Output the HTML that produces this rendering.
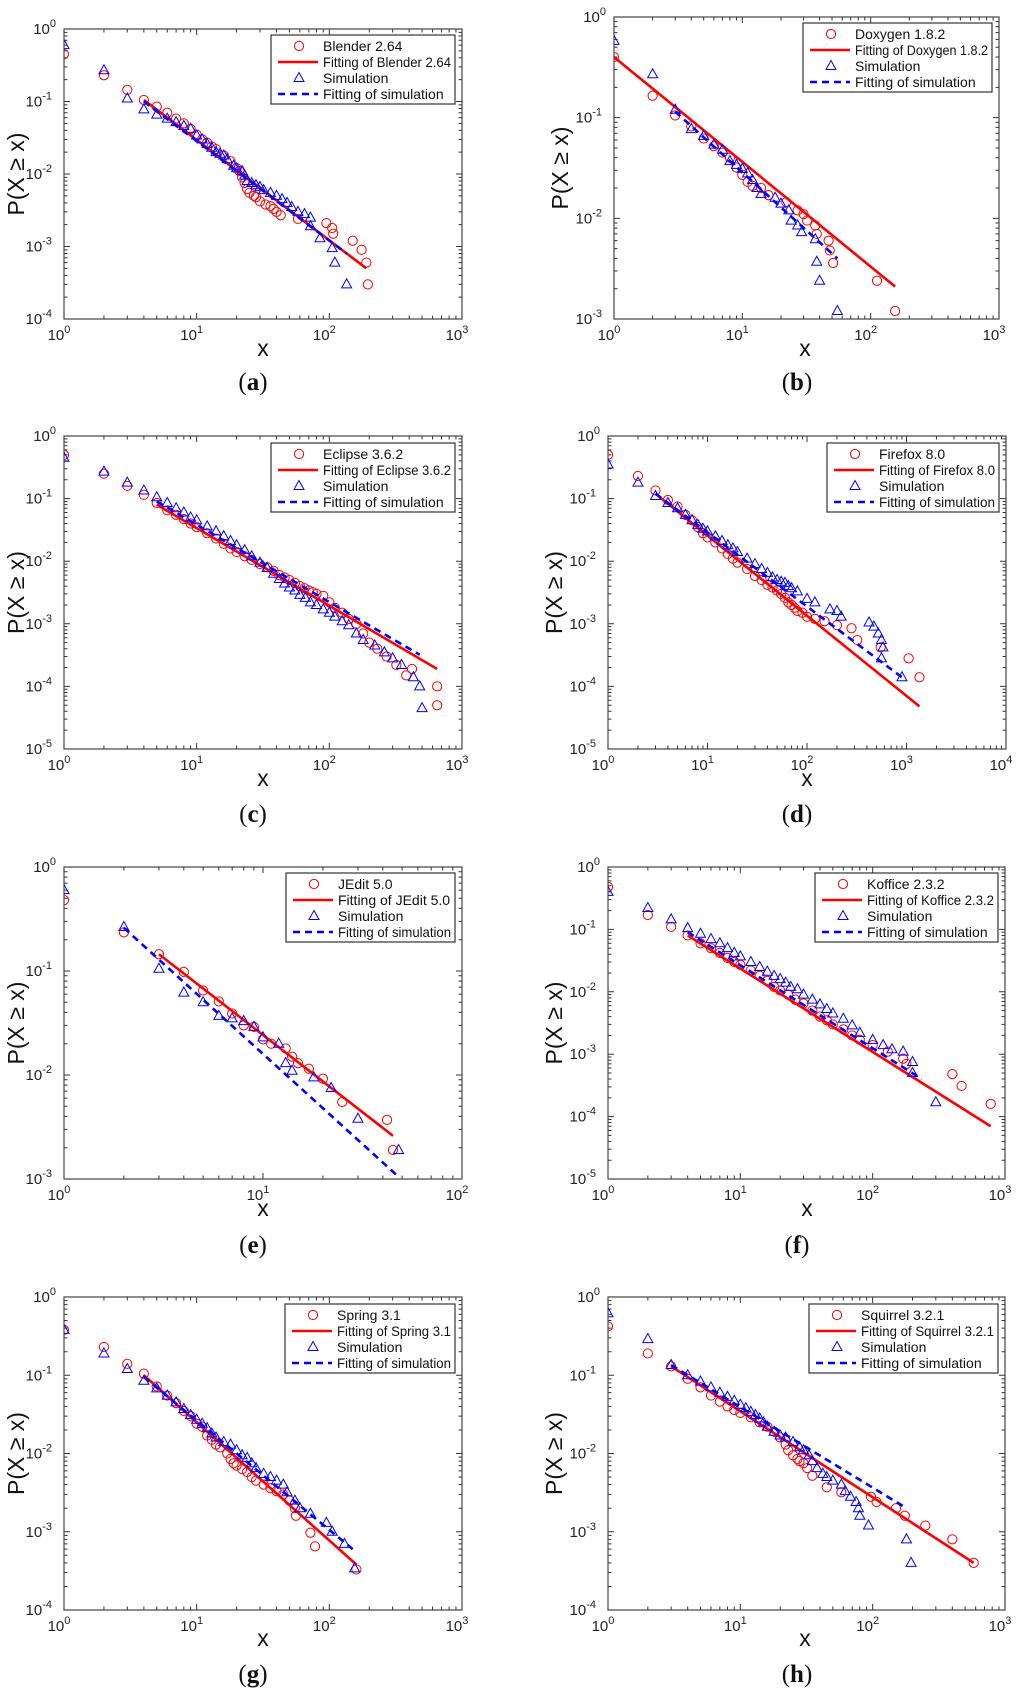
<!DOCTYPE html>
<html><head><meta charset="utf-8"><style>
html,body{margin:0;padding:0;background:#fff;}
svg{display:block;font-family:"Liberation Sans",sans-serif;}
</style></head><body>
<svg id="fig" width="1024" height="1703" viewBox="0 0 1024 1703" xmlns="http://www.w3.org/2000/svg"></svg>
<script>
// ---- data ----
const aCircX=[1,2,3,4,5,6,7,8,9,10,11,12,13,14,16,18,20,21,22,23,24,25,27,28,30,33,36,38,40,43,58,95,105,107,150,175,190,195];
const aCircY=[0.45,0.23,0.145,0.105,0.085,0.07,0.058,0.05,0.042,0.035,0.03,0.027,0.024,0.022,0.018,0.015,0.012,0.011,0.009,0.0075,0.0062,0.0055,0.005,0.0048,0.0042,0.0038,0.0036,0.0033,0.003,0.0027,0.0024,0.0021,0.0018,0.0015,0.0012,0.0009,0.0006,0.0003];
const aTriX=[1,2,3,4,5,6,7,8,9,10,11,12,13,14,15,16,17,19,20,22,23,24,26,28,30,32,36,40,44,48,52,58,65,72,72,85,105,110,135];
const aTriY=[0.6,0.27,0.11,0.078,0.066,0.058,0.052,0.046,0.042,0.034,0.03,0.026,0.023,0.02,0.019,0.018,0.016,0.013,0.012,0.011,0.0095,0.008,0.0075,0.007,0.0066,0.006,0.0055,0.005,0.0045,0.004,0.0035,0.003,0.0028,0.0025,0.0019,0.0013,0.00095,0.0006,0.0003];
const aFit=[4,0.105,190,0.0005];
const aSimFit=[4,0.1,135,0.0008];

const bCircX=[1,2,3,4,5,6,7,8,9,10,11,12,14,16,22,27,30,32,37,38,47,48,51,112,155];
const bCircY=[0.4,0.165,0.105,0.082,0.062,0.052,0.045,0.04,0.032,0.027,0.023,0.021,0.02,0.017,0.0145,0.012,0.011,0.0095,0.0085,0.007,0.006,0.0048,0.0036,0.0024,0.0012];
const bTriX=[1,2,3,4,5,6,7,8,9,10,11,12,13,14,18,20,23,24,27,29,37,38,40,55];
const bTriY=[0.58,0.27,0.12,0.077,0.066,0.054,0.048,0.037,0.034,0.031,0.028,0.024,0.02,0.0175,0.016,0.014,0.012,0.0095,0.0085,0.0073,0.0062,0.0037,0.0024,0.0012];
const bFit=[1,0.4,155,0.0021];
const bSimFit=[3,0.115,55,0.004];

const cCircX=[1,2,3,4,5,6,7,8,9,10,12,14,16,18,20,23,26,30,34,38,42,46,50,55,60,65,70,75,80,90,100,110,125,140,160,180,200,230,270,320,380,420,650,650];
const cCircY=[0.5,0.25,0.16,0.115,0.085,0.065,0.055,0.047,0.04,0.035,0.028,0.023,0.019,0.016,0.014,0.012,0.0105,0.009,0.008,0.007,0.006,0.0055,0.005,0.0045,0.004,0.0037,0.0034,0.0032,0.003,0.0028,0.0022,0.0018,0.0015,0.0012,0.001,0.0007,0.0005,0.0004,0.0003,0.00022,0.00015,0.00019,0.0001,0.00005];
const cTriX=[1,2,3,4,5,6,7,8,9,10,12,14,16,18,20,23,26,30,34,38,42,46,50,55,60,66,72,80,90,100,110,125,140,160,180,220,260,300,350,430,480,500];
const cTriY=[0.45,0.27,0.18,0.135,0.105,0.085,0.07,0.06,0.05,0.045,0.036,0.03,0.025,0.021,0.018,0.015,0.012,0.0095,0.0078,0.0063,0.0052,0.0044,0.0038,0.0034,0.0029,0.0026,0.0022,0.002,0.0017,0.0015,0.0013,0.0011,0.00095,0.0007,0.00055,0.00045,0.00035,0.00028,0.00022,0.00014,0.0001,0.000045];
const cFit=[5,0.08,650,0.00019];
const cSimFit=[5,0.09,480,0.00032];

const dCircX=[1,2,3,4,5,6,7,8,9,10,12,14,16,18,20,25,30,35,40,45,50,55,60,65,70,75,80,90,100,120,150,200,280,320,550,1050,1350];
const dCircY=[0.5,0.23,0.135,0.095,0.075,0.055,0.045,0.035,0.028,0.024,0.02,0.016,0.013,0.011,0.0095,0.0075,0.0058,0.005,0.0042,0.0038,0.0034,0.003,0.0026,0.0022,0.002,0.0018,0.0016,0.0015,0.0013,0.0012,0.0011,0.00095,0.00085,0.00055,0.00042,0.00028,0.00014];
const dTriX=[1,2,3,4,5,6,7,8,9,10,12,14,16,18,20,25,30,35,40,45,50,55,60,65,70,80,100,120,170,200,220,420,470,520,560,580,560,900];
const dTriY=[0.35,0.18,0.11,0.085,0.07,0.055,0.045,0.038,0.033,0.03,0.025,0.021,0.018,0.016,0.014,0.011,0.009,0.0075,0.0065,0.0055,0.005,0.0047,0.0045,0.004,0.0037,0.0033,0.0025,0.0022,0.0017,0.0016,0.0013,0.00105,0.0009,0.0007,0.00055,0.00042,0.00028,0.00014];
const dFit=[3,0.12,1350,0.000048];
const dSimFit=[3,0.12,900,0.00014];

const eCircX=[1,2,3,4,5,6,7,8,9,10,11,13,14,15,17,20,25,42,45];
const eCircY=[0.48,0.235,0.145,0.098,0.065,0.051,0.039,0.03,0.029,0.022,0.02,0.018,0.015,0.013,0.0115,0.0092,0.0055,0.0037,0.0019];
const eTriX=[1,2,3,4,5,6,7,8,9,10,12,13,14,18,22,30,48];
const eTriY=[0.6,0.265,0.105,0.062,0.05,0.037,0.035,0.033,0.029,0.023,0.02,0.013,0.011,0.0095,0.0075,0.0038,0.0019];
const eFit=[3,0.145,45,0.0026];
const eSimFit=[2,0.26,48,0.00105];

const fCircX=[1,2,3,4,5,6,7,8,9,10,12,14,16,18,20,23,26,30,35,40,45,50,60,70,80,100,130,170,180,400,470,780];
const fCircY=[0.48,0.17,0.11,0.08,0.06,0.05,0.042,0.035,0.03,0.027,0.022,0.018,0.015,0.012,0.0105,0.009,0.0075,0.0065,0.005,0.004,0.0035,0.003,0.0025,0.002,0.0017,0.0014,0.0011,0.00085,0.0007,0.00048,0.00031,0.00016];
const fTriX=[1,2,3,4,5,6,7,8,9,10,12,14,16,18,20,22,24,27,30,35,40,45,50,60,70,80,100,120,140,170,200,200,300];
const fTriY=[0.4,0.22,0.145,0.105,0.085,0.07,0.06,0.05,0.042,0.037,0.03,0.025,0.021,0.018,0.016,0.014,0.012,0.011,0.009,0.0075,0.0063,0.0053,0.0045,0.0037,0.0029,0.0022,0.0017,0.0014,0.0012,0.0011,0.00075,0.0005,0.00017];
const fFit=[4,0.08,780,0.00007];
const fSimFit=[4,0.09,235,0.0004];

const gCircX=[1,2,3,4,5,6,7,8,9,10,11,12,13,14,15,17,18,19,20,22,24,26,28,32,36,40,45,50,55,56,72,78,160];
const gCircY=[0.38,0.23,0.14,0.105,0.072,0.055,0.044,0.035,0.03,0.024,0.022,0.017,0.015,0.013,0.012,0.01,0.0085,0.0075,0.007,0.0063,0.0058,0.005,0.0045,0.004,0.0036,0.0033,0.003,0.0025,0.002,0.0016,0.00097,0.00065,0.00033];
const gTriX=[1,2,3,4,5,6,7,8,9,10,11,12,13,14,16,18,20,22,24,26,28,32,36,40,45,48,55,60,72,95,105,130,155];
const gTriY=[0.38,0.19,0.12,0.085,0.068,0.055,0.045,0.037,0.031,0.027,0.024,0.021,0.018,0.016,0.014,0.013,0.011,0.0095,0.0088,0.0075,0.0065,0.0055,0.005,0.0045,0.004,0.0032,0.0025,0.002,0.0017,0.0013,0.001,0.0007,0.00034];
const gFit=[4,0.1,160,0.00038];
const gSimFit=[4,0.095,150,0.0006];

const hCircX=[1,2,3,4,5,6,7,8,9,10,12,14,16,18,20,22,23,25,27,28,30,32,35,45,58,97,107,150,175,250,400,580];
const hCircY=[0.42,0.19,0.13,0.09,0.07,0.055,0.046,0.04,0.036,0.033,0.029,0.025,0.022,0.019,0.016,0.013,0.011,0.0095,0.0085,0.008,0.0075,0.0065,0.0052,0.0037,0.0032,0.0028,0.0024,0.002,0.0016,0.0012,0.0008,0.0004];
const hTriX=[1,2,3,4,5,6,7,8,9,10,11,12,13,14,15,16,18,20,22,25,28,30,33,35,38,42,45,50,58,62,68,75,78,80,93,180,195];
const hTriY=[0.62,0.29,0.135,0.1,0.083,0.07,0.06,0.053,0.047,0.042,0.038,0.034,0.031,0.028,0.025,0.022,0.019,0.017,0.016,0.014,0.012,0.011,0.0095,0.008,0.0065,0.0055,0.005,0.0045,0.004,0.0033,0.0028,0.0024,0.002,0.0016,0.0012,0.0008,0.0004];
const hFit=[3,0.13,580,0.0004];
const hSimFit=[3,0.135,180,0.002];

const legendNames=["Blender 2.64","Doxygen 1.8.2","Eclipse 3.6.2","Firefox 8.0","JEdit 5.0","Koffice 2.3.2","Spring 3.1","Squirrel 3.2.1"];

// ---- layout ----
const panels=[
 {id:"a",l:64,t:29,r:462,b:319,x0:0,x1:3,y0:-4,y1:0,lw:184,lt:35,cap:[263,356,253,390],cd:aCircX,cy:aCircY,tx:aTriX,ty:aTriY,f:aFit,sf:aSimFit},
 {id:"b",l:614,t:17,r:999,b:319,x0:0,x1:3,y0:-3,y1:0,lw:189,lt:23,cap:[805,356,797,390],cd:bCircX,cy:bCircY,tx:bTriX,ty:bTriY,f:bFit,sf:bSimFit},
 {id:"c",l:64,t:436,r:462,b:749,x0:0,x1:3,y0:-5,y1:0,lw:184,lt:443,cap:[263,786,253,822],cd:cCircX,cy:cCircY,tx:cTriX,ty:cTriY,f:cFit,sf:cSimFit},
 {id:"d",l:608,t:436,r:1006,b:749,x0:0,x1:4,y0:-5,y1:0,lw:172,lt:443,cap:[807,786,797,822],cd:dCircX,cy:dCircY,tx:dTriX,ty:dTriY,f:dFit,sf:dSimFit},
 {id:"e",l:64,t:867,r:462,b:1179,x0:0,x1:2,y0:-3,y1:0,lw:169,lt:873,cap:[263,1216,253,1253],cd:eCircX,cy:eCircY,tx:eTriX,ty:eTriY,f:eFit,sf:eSimFit},
 {id:"f",l:608,t:867,r:1005,b:1179,x0:0,x1:3,y0:-5,y1:0,lw:183,lt:873,cap:[807,1216,797,1253],cd:fCircX,cy:fCircY,tx:fTriX,ty:fTriY,f:fFit,sf:fSimFit},
 {id:"g",l:64,t:1297,r:462,b:1610,x0:0,x1:3,y0:-4,y1:0,lw:170,lt:1304,cap:[263,1646,253,1682],cd:gCircX,cy:gCircY,tx:gTriX,ty:gTriY,f:gFit,sf:gSimFit},
 {id:"h",l:608,t:1297,r:1005,b:1610,x0:0,x1:3,y0:-4,y1:0,lw:189,lt:1304,cap:[805,1646,797,1682],cd:hCircX,cy:hCircY,tx:hTriX,ty:hTriY,f:hFit,sf:hSimFit}
];
const NS="http://www.w3.org/2000/svg";
const svg=document.getElementById('fig');
function mk(tag,attrs,parent){const e=document.createElementNS(NS,tag);for(const k in attrs)e.setAttribute(k,attrs[k]);(parent||svg).appendChild(e);return e;}

panels.forEach((p,pi)=>{
 const g=mk('g',{});
 
 
 const X=v=>p.l+(Math.log10(v)-p.x0)/(p.x1-p.x0)*(p.r-p.l);
 const Y=v=>p.b-(Math.log10(v)-p.y0)/(p.y1-p.y0)*(p.b-p.t);
 let d='';
 for(let e=p.x0;e<=p.x1;e++){
  for(let m=1;m<=9;m++){
   if(e===p.x1&&m>1)break;
   const xx=X(m*Math.pow(10,e));const len=m===1?6:3.5;
   d+=`M${xx},${p.b}v${-len}M${xx},${p.t}v${len}`;
  }
 }
 for(let e=p.y0;e<=p.y1;e++){
  for(let m=1;m<=9;m++){
   if(e===p.y1&&m>1)break;
   const yy=Y(m*Math.pow(10,e));const len=m===1?6:3.5;
   d+=`M${p.l},${yy}h${len}M${p.r},${yy}h${-len}`;
  }
 }
 const tk=mk('path',{d:d,stroke:'#333','stroke-width':1,fill:'none'},g);
 
 
 const box=mk('rect',{x:p.l,y:p.t,width:p.r-p.l,height:p.b-p.t,fill:'none',stroke:'#444','stroke-width':1.2},g);
 
 
 for(let e=p.x0;e<=p.x1;e++){
  const t=mk('text',{x:X(Math.pow(10,e))-5,y:p.b+21,'text-anchor':'middle','font-size':15,fill:'#222'},g);
  
  
  t.textContent='10';
  const s=mk('tspan',{dy:-7,'font-size':11},t);s.textContent=String(e);
 }
 for(let e=p.y0;e<=p.y1;e++){
  const t=mk('text',{x:p.l-3-(e<0?9:5),y:Y(Math.pow(10,e))+5,'text-anchor':'end','font-size':15,fill:'#222'},g);
  
  
  t.textContent='10';
  const s=mk('tspan',{dy:-7,'font-size':11},t);s.textContent=String(e);
 }
 const xt=mk('text',{x:p.cap[0],y:p.cap[1],'text-anchor':'middle','font-size':23,fill:'#111'},g);
 
 
 xt.textContent='x';
 const ylx=pi%2===0?24:p.l-46;
 const ym=(p.t+p.b)/2;
 const yt=mk('text',{x:ylx,y:ym,'text-anchor':'middle','font-size':23,fill:'#111',transform:`rotate(-90 ${ylx} ${ym})`},g);
 
 
 yt.textContent='P(X \u2265 x)';
 const ct=mk('text',{x:p.cap[2],y:p.cap[3],'text-anchor':'middle','font-size':25,fill:'#111','font-family':'"Liberation Serif",serif'},g);
 
 
 ct.textContent='(';
 const cb=mk('tspan',{'font-weight':'bold'},ct);cb.textContent=p.id;
 const ce=mk('tspan',{},ct);ce.textContent=')';
 const clipId='clip'+p.id;
 const cp=mk('clipPath',{id:clipId},g);mk('rect',{x:p.l,y:p.t,width:p.r-p.l,height:p.b-p.t},cp);
 const dg=mk('g',{'clip-path':`url(#${clipId})`},g);
 const fl=mk('line',{x1:X(p.f[0]),y1:Y(p.f[1]),x2:X(p.f[2]),y2:Y(p.f[3]),stroke:'#ff0000','stroke-width':2.6},dg);
 
 
 p.cd.forEach((xv,i)=>{
  const c=mk('circle',{cx:X(xv),cy:Y(p.cy[i]),r:4.6,fill:'none',stroke:'#ff0000','stroke-width':1},dg);
  
  
 });
 p.tx.forEach((xv,i)=>{
  const x=X(xv),y=Y(p.ty[i]);
  const tr=mk('path',{d:`M${x},${y-5.5}L${x+5},${y+3.5}L${x-5},${y+3.5}Z`,fill:'none',stroke:'#0000ff','stroke-width':1},dg);
  
  
 });
 const sl=mk('line',{x1:X(p.sf[0]),y1:Y(p.sf[1]),x2:X(p.sf[2]),y2:Y(p.sf[3]),stroke:'#0000ff','stroke-width':2.6,'stroke-dasharray':'7,5'},dg);
 
 
 const lx=p.r-7-p.lw, ly=p.lt;
 const lg=mk('g',{},g);
 
 
 mk('rect',{x:lx,y:ly,width:p.lw,height:69,fill:'#fff',stroke:'#333','stroke-width':1.2},lg);
 const nm=legendNames[pi];
 const labels=[nm,'Fitting of '+nm,'Simulation','Fitting of simulation'];
 labels.forEach((s,i)=>{
  const yy=ly+11+16*i;
  if(i===0)mk('circle',{cx:lx+28,cy:yy,r:4.6,fill:'none',stroke:'#ff0000','stroke-width':1},lg);
  if(i===1)mk('line',{x1:lx+7,y1:yy,x2:lx+47,y2:yy,stroke:'#ff0000','stroke-width':2.6},lg);
  if(i===2)mk('path',{d:`M${lx+28},${yy-5.5}L${lx+33},${yy+3.5}L${lx+23},${yy+3.5}Z`,fill:'none',stroke:'#0000ff','stroke-width':1},lg);
  if(i===3)mk('line',{x1:lx+7,y1:yy,x2:lx+47,y2:yy,stroke:'#0000ff','stroke-width':2.6,'stroke-dasharray':'7,5'},lg);
  const t=mk('text',{x:lx+52,y:yy+5,'font-size':14,fill:'#111'},lg);
  
  
  t.textContent=s;
  const maxW=p.lw-56;
  if(t.getComputedTextLength()>maxW){t.setAttribute('textLength',maxW);t.setAttribute('lengthAdjust','spacingAndGlyphs');}
 });
});
</script>
</body></html>
